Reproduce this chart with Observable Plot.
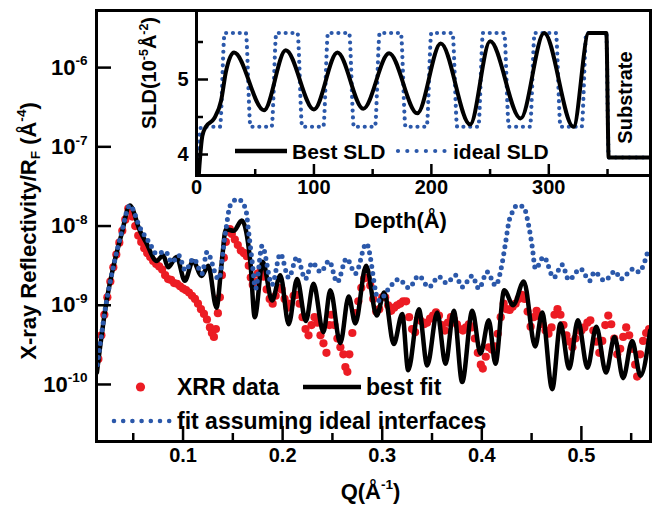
<!DOCTYPE html>
<html><head><meta charset="utf-8">
<script src="https://cdn.jsdelivr.net/npm/d3@7"></script>
<script src="https://cdn.jsdelivr.net/npm/@observablehq/plot@0.6"></script>
<style>
body{margin:0;background:#fff;}
#wrap{position:relative;width:655px;height:511px;}
#wrap svg{position:absolute;left:0;top:0;}
</style></head><body><div id="wrap"></div>
<script>
// ---------- Main panel data: Q (1/Å) and log10(R/RF) ----------
const xrrQ = [
0.015,0.018,0.021,0.024,0.027,0.030,0.033,0.036,0.039,0.042,
0.045,0.047,0.049,0.052,0.055,0.058,0.061,0.064,0.067,0.070,
0.073,0.076,0.079,0.082,0.085,0.088,0.091,0.094,0.097,0.100,
0.103,0.106,0.109,0.112,0.115,0.118,0.121,0.124,0.127,0.129,
0.131,0.133,0.135,0.137,0.139,0.141,0.143,0.145,0.147,0.149,
0.152,0.155,0.158,0.161,0.164,0.166,0.168,0.170,0.172,0.175,
0.178,0.181,0.184,0.187,0.190,0.193,0.196,0.199,0.202,0.205,
0.208,0.211,0.214,0.217,0.220,0.223,0.226,0.229,0.232,0.235,
0.238,0.241,0.244,0.247,0.249,0.252,0.255,0.258,0.261,0.263,
0.265,0.267,0.270,0.273,0.276,0.279,0.282,0.285,0.288,0.291,
0.294,0.297,0.300,0.303,0.306,0.309,0.312,0.315,0.318,0.321,
0.324,0.327,0.330,0.333,0.336,0.339,0.342,0.345,0.348,0.351,
0.354,0.357,0.360,0.363,0.366,0.369,0.372,0.375,0.378,0.381,
0.384,0.387,0.390,0.393,0.396,0.399,0.401,0.404,0.407,0.410,
0.413,0.416,0.419,0.422,0.425,0.428,0.431,0.434,0.437,0.440,
0.443,0.446,0.449,0.452,0.455,0.458,0.461,0.464,0.467,0.470,
0.473,0.476,0.479,0.482,0.485,0.488,0.491,0.494,0.497,0.500,
0.503,0.506,0.509,0.512,0.515,0.518,0.521,0.524,0.527,0.530,
0.533,0.536,0.539,0.542,0.545,0.548,0.551,0.554,0.556,0.559,
0.562,0.565,0.568];
const xrrLogR = [
-9.68,-9.38,-9.12,-8.90,-8.70,-8.52,-8.36,-8.21,-8.06,-7.92,
-7.78,-7.80,-7.88,-8.00,-8.12,-8.20,-8.28,-8.34,-8.39,-8.44,
-8.48,-8.51,-8.55,-8.62,-8.67,-8.68,-8.72,-8.73,-8.76,-8.79,
-8.81,-8.84,-8.88,-8.92,-8.98,-9.05,-9.11,-9.18,-9.28,-9.35,
-9.40,-9.30,-9.10,-8.90,-8.62,-8.40,-8.20,-8.07,-8.04,-8.10,
-8.17,-8.24,-8.31,-8.34,-8.38,-8.50,-8.65,-8.74,-8.70,-8.60,
-8.56,-8.64,-8.80,-8.92,-8.98,-8.88,-8.78,-8.80,-8.92,-9.03,
-8.98,-8.88,-8.87,-8.98,-9.15,-9.30,-9.38,-9.25,-9.15,-9.22,
-9.38,-9.48,-9.60,-9.25,-9.12,-9.25,-9.42,-9.53,-9.62,-9.78,
-9.84,-9.62,-9.35,-9.10,-8.95,-8.78,-8.66,-8.65,-8.75,-8.92,
-9.08,-9.05,-8.90,-8.90,-9.00,-9.07,-9.03,-9.00,-8.98,-8.95,
-8.95,-9.15,-9.30,-9.34,-9.18,-9.20,-9.24,-9.22,-9.17,-9.13,
-9.09,-9.13,-9.25,-9.32,-9.22,-9.15,-9.18,-9.24,-9.30,-9.32,
-9.28,-9.24,-9.28,-9.42,-9.60,-9.75,-9.80,-9.65,-9.53,-9.56,
-9.52,-9.36,-9.15,-8.98,-9.05,-9.06,-9.02,-8.98,-8.92,-8.87,
-8.92,-9.08,-9.27,-9.15,-9.07,-9.14,-9.24,-9.32,-9.36,-9.28,
-9.12,-9.05,-9.12,-9.25,-9.38,-9.46,-9.53,-9.42,-9.32,-9.32,
-9.28,-9.22,-9.19,-9.32,-9.46,-9.60,-9.45,-9.25,-9.13,-9.24,
-9.42,-9.62,-9.55,-9.40,-9.28,-9.38,-9.55,-9.75,-9.90,-9.62,
-9.45,-9.35,-9.30];

const bestQ = [
0.0135,0.0233,0.0299,0.0383,0.0466,0.0567,0.0634,0.0734,0.0800,0.0850,
0.0935,0.1018,0.1100,0.1186,0.1253,0.1336,0.1387,0.1430,0.1510,0.1590,
0.1677,0.1720,0.1800,0.1894,0.1977,0.2061,0.2145,0.2233,0.2310,0.2409,
0.2479,0.2579,0.2663,0.2730,0.2838,0.2945,0.3020,0.3116,0.3201,0.3261,
0.3368,0.3452,0.3552,0.3636,0.3719,0.3803,0.3904,0.3987,0.4070,0.4137,
0.4225,0.4315,0.4422,0.4536,0.4606,0.4707,0.4790,0.4877,0.4965,0.5061,
0.5150,0.5247,0.5333,0.5419,0.5510,0.5593,0.5690];
const bestLogR = [
-9.85,-8.94,-8.52,-8.10,-7.74,-8.06,-8.22,-8.44,-8.37,-8.52,
-8.39,-8.69,-8.44,-8.63,-8.50,-9.03,-8.48,-8.04,-8.06,-7.93,
-8.47,-9.15,-8.45,-8.94,-8.62,-9.24,-8.67,-9.20,-8.73,-9.34,
-8.81,-9.48,-8.89,-9.23,-8.50,-9.13,-8.84,-9.49,-9.11,-9.82,
-9.05,-9.76,-9.09,-9.74,-9.07,-9.97,-9.07,-9.61,-9.19,-9.74,
-8.81,-9.00,-8.70,-9.52,-9.09,-10.06,-9.23,-9.80,-9.19,-9.79,
-9.27,-9.85,-9.40,-9.92,-9.45,-9.89,-9.32];

const idealQ = [
0.0140,0.0233,0.0299,0.0383,0.0466,0.0567,0.0667,0.0734,0.0822,0.0889,
0.0956,0.1023,0.1106,0.1190,0.1240,0.1357,0.1424,0.1474,0.1550,0.1628,
0.1661,0.1695,0.1728,0.1794,0.1894,0.1977,0.2061,0.2145,0.2228,0.2297,
0.2381,0.2466,0.2548,0.2642,0.2731,0.2841,0.2965,0.3083,0.3167,0.3267,
0.3367,0.3468,0.3568,0.3646,0.3736,0.3803,0.3904,0.3970,0.4054,0.4138,
0.4200,0.4240,0.4275,0.4305,0.4355,0.4420,0.4470,0.4505,0.4539,0.4622,
0.4723,0.4807,0.4873,0.4991,0.5084,0.5131,0.5232,0.5342,0.5392,0.5526,
0.5577,0.5627,0.5660];
const idealLogR = [
-9.75,-8.94,-8.52,-8.08,-7.74,-8.02,-8.22,-8.35,-8.32,-8.46,
-8.37,-8.56,-8.41,-8.60,-8.33,-8.67,-8.10,-7.74,-7.66,-7.78,
-8.10,-8.46,-8.79,-8.25,-8.74,-8.35,-8.65,-8.39,-8.67,-8.46,
-8.58,-8.44,-8.71,-8.41,-8.60,-8.22,-8.94,-8.76,-8.67,-8.78,
-8.63,-8.77,-8.64,-8.72,-8.62,-8.77,-8.63,-8.79,-8.58,-8.75,
-8.50,-8.20,-7.93,-7.83,-7.74,-7.76,-7.99,-8.25,-8.54,-8.39,
-8.65,-8.49,-8.68,-8.54,-8.69,-8.58,-8.69,-8.57,-8.67,-8.54,
-8.58,-8.48,-8.35];

const qMajor = [0.1,0.2,0.3,0.4,0.5];
const qMinor = [0.05,0.15,0.25,0.35,0.45,0.55];
const rTicks = [1e-10,1e-9,1e-8,1e-7,1e-6];

// ---------- Inset data: depth (Å) and SLD (1e-5 Å^-2) ----------
const bestDepth = [1.0,2.5,5,8,15,21,25,32,57.5,76,100,120,142,164,188,208,233,250,276,296,321,334,349,351,386];
const bestSLD   = [3.50,3.85,4.25,4.37,4.48,4.72,5.10,5.36,4.59,5.39,4.60,5.36,4.61,5.35,4.55,5.48,4.40,5.51,4.48,5.62,4.37,5.62,5.62,3.96,3.96];
const idealDepth = [0.5,4,20,24,42,46,64,68,86,90,
  108,112,130,134,152,156,174,178,196,200,
  218,222,240,244,262,266,284,288,306,310,
  328,332,349,351,386];
const idealSLD = [3.72,4.37,4.37,5.62,5.62,4.37,4.37,5.62,5.62,4.37,
  4.37,5.62,5.62,4.37,4.37,5.62,5.62,4.37,4.37,5.62,
  5.62,4.37,4.37,5.62,5.62,4.37,4.37,5.62,5.62,4.37,
  4.37,5.62,5.62,3.96,3.96];
const dMajor = [0,100,200,300];
const dMinor = [50,150,250,350];
const sMajor = [4,5];
const sMinor = [4.5,5.5];

const FONT = '"Liberation Sans", Arial, Helvetica, sans-serif';
const RED = "#ec1c24", BLUE = "#2b58aa";

const xrr = xrrQ.map((q,i)=>({q, r: 10**xrrLogR[i]}));
const best = bestQ.map((q,i)=>({q, r: 10**bestLogR[i]}));
const ideal = idealQ.map((q,i)=>({q, r: 10**idealLogR[i]}));
const sldBest = bestDepth.map((d,i)=>({d, s: bestSLD[i]}));
const sldIdeal = idealDepth.map((d,i)=>({d, s: idealSLD[i]}));

const W = 655, H = 511;
const mL = 96, mR = 5, mT = 10, mB = 70;
const fw = W - mL - mR, fh = H - mT - mB;

const main = Plot.plot({
  width: W, height: H, marginLeft: mL, marginRight: mR, marginTop: mT, marginBottom: mB,
  style: {fontFamily: FONT, fontWeight: "bold", background: "white", color: "black"},
  x: {domain: [0.0131, 0.5694], axis: null},
  y: {type: "log", domain: [10**-10.72, 10**-5.279], axis: null},
  marks: [
    Plot.dot(xrr, {x: "q", y: "r", r: 4.1, fill: RED, clip: true}),
    Plot.line(best, {x: "q", y: "r", stroke: "black", strokeWidth: 4.5, curve: "monotone-x", clip: true}),
    Plot.line(ideal, {x: "q", y: "r", stroke: BLUE, strokeWidth: 5, strokeDasharray: "0 7", strokeLinecap: "round", curve: "monotone-x", clip: true}),
    Plot.tickX(qMajor, {x: d => d, insetTop: fh - 15, strokeWidth: 2.5}),
    Plot.tickX(qMinor, {x: d => d, insetTop: fh - 8, strokeWidth: 2.5}),
    Plot.tickY(rTicks, {y: d => d, insetRight: fw - 15, strokeWidth: 2.5}),
    Plot.text(qMajor, {x: d => d, frameAnchor: "bottom", dy: 20, text: d => String(d), fontSize: 20, fontWeight: "bold"}),
    Plot.text(rTicks, {y: d => d, frameAnchor: "left", dx: -9, textAnchor: "end", text: d => `10^{${Math.round(Math.log10(d))}}`, fontSize: 22, fontWeight: "bold"}),
    Plot.text(["X-ray Reflectivity/R_{F} (Å^{-4})"], {frameAnchor: "left", textAnchor: "middle", dx: -68, dy: 5, rotate: -90, fontSize: 22, fontWeight: "bold"}),
    Plot.text(["Q(Å^{-1})"], {frameAnchor: "bottom", textAnchor: "middle", dx: -3, dy: 57, fontSize: 22, fontWeight: "bold"}),
    Plot.frame({stroke: "black", strokeWidth: 3})
  ]
});

const iL = 196, iR = 5, iT = 10, iB = 336;
const ifw = W - iL - iR, ifh = H - iT - iB;
const inset = Plot.plot({
  width: W, height: H, marginLeft: iL, marginRight: iR, marginTop: iT, marginBottom: iB,
  style: {fontFamily: FONT, fontWeight: "bold", background: "none", color: "black"},
  x: {domain: [0, 386.6], axis: null},
  y: {domain: [3.72, 5.92], axis: null},
  marks: [
    Plot.frame({fill: "white"}),
    Plot.line(sldIdeal, {x: "d", y: "s", stroke: BLUE, strokeWidth: 4.2, strokeDasharray: "0 6.8", strokeLinecap: "round", curve: "monotone-x", clip: true}),
    Plot.line(sldBest, {x: "d", y: "s", stroke: "black", strokeWidth: 4, curve: "monotone-x", clip: true}),
    Plot.tickX(dMajor, {x: d => d, insetTop: ifh - 11, strokeWidth: 2.5}),
    Plot.tickX(dMinor, {x: d => d, insetTop: ifh - 6, strokeWidth: 2.5}),
    Plot.tickY(sMajor, {y: d => d, insetRight: ifw - 12, strokeWidth: 2.5}),
    Plot.tickY(sMinor, {y: d => d, insetRight: ifw - 7, strokeWidth: 2.5}),
    Plot.text(dMajor, {x: d => d, frameAnchor: "bottom", dy: 18, text: d => String(d), fontSize: 20, fontWeight: "bold"}),
    Plot.text(sMajor, {y: d => d, frameAnchor: "left", dx: -8, textAnchor: "end", text: d => String(d), fontSize: 20, fontWeight: "bold"}),
    Plot.text(["SLD(10^{-5}Å^{-2})"], {frameAnchor: "left", textAnchor: "middle", dx: -47, dy: -20, rotate: -90, fontSize: 20, fontWeight: "bold"}),
    Plot.text(["Depth(Å)"], {frameAnchor: "bottom", textAnchor: "middle", dx: -23, dy: 52, fontSize: 22, fontWeight: "bold"}),
    Plot.text(["Substrate"], {frameAnchor: "right", textAnchor: "middle", dx: -25, dy: 4.5, rotate: -90, fontSize: 20, fontWeight: "bold"}),
    Plot.frame({stroke: "black", strokeWidth: 3})
  ]
});

const wrap = document.getElementById("wrap");
wrap.appendChild(main);
wrap.appendChild(inset);

// legends
const ns = "http://www.w3.org/2000/svg";
const lg = d3.select(main).append("g").attr("font-family", FONT).attr("font-weight", "bold").attr("font-size", 23).attr("fill", "black").attr("text-anchor", "start");
lg.append("circle").attr("cx", 140.5).attr("cy", 387).attr("r", 4.6).attr("fill", RED);
lg.append("text").attr("x", 177).attr("y", 395).text("XRR data");
lg.append("line").attr("x1", 303).attr("x2", 361).attr("y1", 387).attr("y2", 387).attr("stroke", "black").attr("stroke-width", 4.5);
lg.append("text").attr("x", 366).attr("y", 395).text("best fit");
lg.append("line").attr("x1", 114).attr("x2", 170).attr("y1", 421).attr("y2", 421).attr("stroke", BLUE).attr("stroke-width", 4.6).attr("stroke-dasharray", "0 9.2").attr("stroke-linecap", "round");
lg.append("text").attr("x", 177).attr("y", 429).text("fit assuming ideal interfaces");

const ig = d3.select(inset).append("g").attr("font-family", FONT).attr("font-weight", "bold").attr("font-size", 21).attr("fill", "black").attr("text-anchor", "start");
ig.append("line").attr("x1", 235).attr("x2", 287).attr("y1", 151).attr("y2", 151).attr("stroke", "black").attr("stroke-width", 4.5);
ig.append("text").attr("x", 292).attr("y", 158.5).text("Best SLD");
ig.append("line").attr("x1", 398).attr("x2", 446).attr("y1", 151).attr("y2", 151).attr("stroke", BLUE).attr("stroke-width", 4.2).attr("stroke-dasharray", "0 9.3").attr("stroke-linecap", "round");
ig.append("text").attr("x", 453).attr("y", 158.5).text("ideal SLD");

// superscripts / subscripts
function richText(svg){
  svg.querySelectorAll("text").forEach(el => {
    const s = el.textContent;
    if (!/[\^_]\{/.test(s)) return;
    const fs = parseFloat(getComputedStyle(el).fontSize) || 20;
    while (el.firstChild) el.removeChild(el.firstChild);
    const re = /([\^_])\{([^}]*)\}/g;
    let last = 0, cur = 0, m;
    const add = (txt, target, small) => {
      if (!txt) return;
      const t = document.createElementNS(ns, "tspan");
      const dy = target - cur;
      if (dy) t.setAttribute("dy", dy.toFixed(2));
      if (small) t.setAttribute("font-size", (fs * 0.62).toFixed(1));
      t.textContent = txt;
      el.appendChild(t);
      cur = target;
    };
    while ((m = re.exec(s))) {
      add(s.slice(last, m.index), 0, false);
      add(m[2], m[1] === "^" ? -0.42 * fs : 0.2 * fs, true);
      last = re.lastIndex;
    }
    add(s.slice(last), 0, false);
  });
}
richText(main);
richText(inset);
</script></body></html>
